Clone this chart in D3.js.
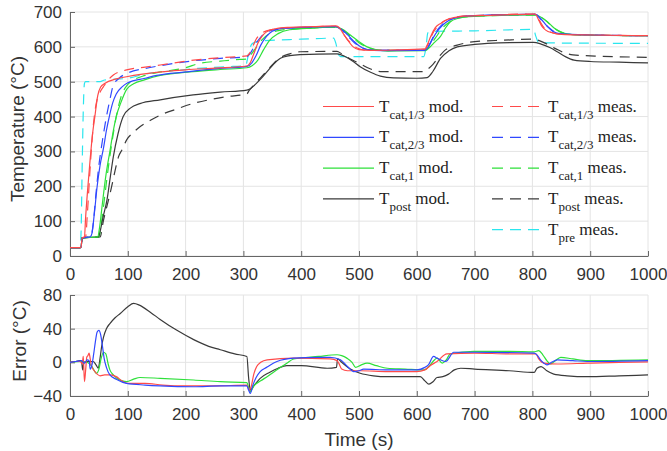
<!DOCTYPE html>
<html>
<head>
<meta charset="utf-8">
<script src="https://cdn.jsdelivr.net/npm/d3@7"></script>
<style>
  body { margin: 0; background: #fff; }
  .tick text { font-family: "Liberation Sans", Arial, sans-serif; font-size: 17px; fill: #333; }
  .axis-title { font-family: "Liberation Sans", Arial, sans-serif; font-size: 19px; fill: #333; }
  .legend text { font-family: "Liberation Serif", "Times New Roman", serif; fill: #222; }
</style>
</head>
<body>
<div id="chart"></div>
<script>
// ---- data (time s, temperature / error in degC) ----
var xTicks = [0, 100, 200, 300, 400, 500, 600, 700, 800, 900, 1000];
var tempTicks = [0, 100, 200, 300, 400, 500, 600, 700];
var errTicks = [-40, 0, 40, 80];

var redMod = [[0,24],[19,24],[21,52],[25,55],[27,110],[31,200],[35,280],[39,350],[43,400],[48,460],[53,485],[60,495],[80,508],[100,515],[150,527],[200,534],[250,539],[306,545],[312,555],[318,580],[325,610],[332,630],[340,643],[355,652],[380,656],[420,658],[460,660],[466,655],[472,640],[480,620],[490,600],[500,592],[520,590],[560,591],[614,594],[618,605],[624,630],[632,655],[642,668],[655,680],[675,687],[720,690],[805,694],[810,680],[816,660],[823,648],[835,640],[850,636],[900,634],[1000,632]];
var blueMod = [[0,24],[19,24],[21,52],[35,55],[38,65],[42,120],[47,200],[52,260],[58,310],[63,360],[68,400],[74,440],[80,465],[90,485],[100,497],[130,510],[150,518],[200,528],[250,537],[306,544],[315,555],[322,575],[330,605],[340,630],[350,645],[370,654],[420,657],[460,658],[470,650],[480,635],[490,618],[500,603],[512,593],[540,589],[614,590],[620,600],[628,625],[638,650],[650,670],[665,682],[690,689],[805,693],[815,680],[825,660],[835,645],[850,637],[900,634],[1000,632]];
var greenMod = [[0,24],[19,24],[21,52],[48,55],[51,80],[56,150],[62,230],[69,300],[75,360],[80,400],[88,440],[98,478],[110,494],[130,506],[156,518],[213,529],[260,535],[306,540],[315,546],[325,562],[335,592],[345,618],[360,638],[380,649],[420,654],[460,657],[470,652],[485,634],[500,615],[514,600],[530,592],[550,588],[614,589],[620,595],[630,612],[641,630],[650,655],[658,672],[672,682],[690,687],[805,692],[815,685],[826,672],[837,655],[848,643],[860,637],[880,634],[1000,632]];
var blackMod = [[0,24],[19,24],[21,52],[49,55],[52,70],[57,110],[64,161],[70,230],[75,285],[83,350],[92,400],[105,425],[121,437],[156,448],[213,462],[260,470],[306,476],[312,480],[318,488],[330,508],[341,529],[352,550],[364,567],[380,575],[398,578],[462,580],[475,573],[490,558],[502,543],[520,527],[537,516],[560,511],[600,510],[618,512],[628,530],[641,567],[655,588],[670,600],[700,607],[722,610],[802,613],[815,608],[830,598],[843,586],[857,572],[872,562],[900,558],[950,556],[1000,554]];
var redMeas = [[0,24],[19,24],[21,52],[27,55],[30,120],[34,230],[38,330],[42,400],[47,450],[52,470],[58,486],[66,505],[75,519],[98,534],[130,542],[156,548],[214,562],[260,569],[306,574],[310,580],[316,600],[322,622],[330,637],[340,646],[360,652],[400,656],[460,659],[468,650],[476,630],[486,610],[498,596],[515,590],[614,592],[620,610],[628,640],[640,665],[655,680],[680,688],[805,694],[812,676],[820,655],[832,642],[850,636],[1000,632]];
var blueMeas = [[0,24],[19,24],[21,52],[36,55],[40,90],[45,180],[50,260],[56,330],[62,390],[68,440],[75,490],[85,510],[100,525],[130,538],[156,546],[214,560],[260,567],[306,572],[312,582],[320,605],[330,628],[340,642],[360,651],[400,655],[460,657],[470,648],[480,632],[492,612],[505,598],[520,591],[614,591],[622,608],[632,640],[645,666],[660,680],[690,688],[805,693],[815,678],[828,656],[840,642],[860,636],[1000,632]];
var greenMeas = [[0,24],[19,24],[21,52],[50,55],[54,90],[60,170],[66,250],[72,320],[80,400],[89,460],[98,488],[110,505],[130,518],[156,528],[200,540],[225,553],[260,559],[294,564],[306,565],[314,580],[322,598],[332,620],[345,638],[365,648],[400,653],[460,656],[472,648],[486,630],[500,612],[515,598],[535,590],[614,590],[622,602],[632,625],[645,655],[658,673],[675,684],[700,688],[805,691],[818,682],[830,665],[843,648],[858,638],[880,634],[1000,632]];
var blackMeas = [[0,24],[19,24],[21,52],[52,55],[58,103],[65,150],[72,199],[78,245],[84,285],[90,305],[98,333],[110,355],[121,371],[140,390],[156,404],[185,422],[214,438],[240,448],[271,457],[306,465],[310,475],[318,490],[330,512],[340,530],[352,552],[365,570],[380,580],[398,586],[462,587],[470,580],[485,565],[500,553],[515,540],[530,531],[540,529],[610,529],[618,535],[628,550],[640,575],[650,592],[670,605],[700,615],[750,619],[800,622],[812,618],[825,608],[840,595],[855,583],[870,577],[920,573],[1000,570]];
var cyanMeas = [[0,24],[17,24],[19,60],[21,250],[23,420],[25,495],[27,500],[52,500],[60,505],[100,510],[130,522],[170,530],[220,538],[270,543],[304,546],[307,565],[311,595],[316,610],[330,617],[400,622],[456,625],[460,610],[464,580],[468,572],[612,572],[616,600],[619,640],[625,644],[700,646],[802,650],[806,630],[811,612],[850,611],[1000,610]];

var errRed = [[0,0],[10,1],[18,1],[21,-2],[23,7],[25,-23],[27,-10],[29,6],[31,8],[33,11],[35,4],[37,-4],[42,-10],[47,-14],[52,-16],[60,-15],[70,-15],[80,-17],[90,-22],[100,-25],[130,-25],[160,-27],[200,-28],[250,-28],[306,-27],[310,-33],[313,-30],[318,-14],[323,-5],[330,0],[341,3],[387,5],[450,4],[462,2],[465,-1],[470,-8],[480,-10],[502,-10],[550,-11],[600,-11],[614,-9],[623,-4],[635,1],[652,10],[700,11],[760,10],[806,10],[811,4],[820,-1],[843,-2],[895,-1],[950,0],[1000,0.5]];
var errBlue = [[0,0],[10,1],[20,2],[25,-1],[30,3],[33,2],[35,-8],[38,-3],[41,10],[44,25],[47,36],[50,38],[53,33],[56,20],[59,5],[63,-6],[69,-15],[80,-20],[98,-25],[130,-27],[156,-28],[214,-29],[260,-28],[306,-28],[309,-33],[312,-37],[316,-28],[322,-18],[329,-11],[340,-6],[358,1],[387,5],[430,6],[450,6],[468,3],[480,-5],[491,-11],[500,-10],[508,-8],[550,-9],[600,-9],[614,-6],[620,-3],[629,7],[635,5],[641,3],[650,1],[664,12],[700,12],[803,11],[809,8],[814,3],[820,-1],[825,-3],[833,0],[843,3],[870,2],[895,1],[1000,2]];
var errGreen = [[0,0],[20,1],[30,0],[38,-5],[42,-10],[46,-13],[50,-8],[54,5],[58,12],[62,10],[66,-2],[69,-9],[75,-15],[81,-19],[90,-22],[98,-23],[110,-20],[121,-18],[156,-19],[214,-21],[260,-23],[306,-24],[309,-30],[312,-35],[318,-28],[330,-22],[341,-17],[360,-8],[375,-1],[387,4],[430,7],[462,9],[470,8],[479,5],[488,0],[494,-6],[504,-3],[514,-1],[530,-4],[549,-7],[580,-8],[612,-9],[621,-5],[628,1],[635,5],[644,-1],[651,3],[658,10],[699,13],[760,13],[803,12.5],[811,14],[818,9],[825,2],[831,-2],[838,1],[849,6],[870,4],[895,2],[1000,3]];
var errBlack = [[0,0],[10,1],[18,2],[20,1],[22,-9],[24,0],[30,1],[40,1],[45,-3],[49,-7],[52,5],[55,20],[58,30],[63,40],[69,46],[78,53],[87,58],[100,66],[110,70],[120,68],[140,59],[156,51],[185,38],[214,27],[240,19],[260,15],[285,10],[306,7],[309,-18],[312,-33],[318,-28],[329,-19],[345,-12],[360,-7],[375,-4],[400,-4],[445,-7],[461,-6],[463,4],[470,0],[485,-8],[502,-13],[525,-16],[549,-17],[606,-17],[614,-22],[621,-26],[628,-23],[635,-18],[645,-17],[655,-14],[665,-9],[676,-7],[700,-8],[760,-10],[803,-12],[808,-7],[815,-5],[825,-10],[837,-14],[860,-16],[895,-17],[950,-16],[1000,-15]];

var red = "#ff4a4a", blue = "#3048ff", green = "#2ee03a", black = "#3a3a3a", cyan = "#2ae6ee";

var tempSeries = [
  {data: cyanMeas, color: cyan, dash: true},
  {data: blackMeas, color: black, dash: true},
  {data: greenMeas, color: green, dash: true},
  {data: blueMeas, color: blue, dash: true},
  {data: redMeas, color: red, dash: true},
  {data: blackMod, color: black, dash: false},
  {data: greenMod, color: green, dash: false},
  {data: blueMod, color: blue, dash: false},
  {data: redMod, color: red, dash: false}
];
var errSeries = [
  {data: errBlack, color: black},
  {data: errGreen, color: green},
  {data: errRed, color: red},
  {data: errBlue, color: blue}
];

var legendLeft = [
  {sub: "cat,1/3", tail: " mod.", color: red},
  {sub: "cat,2/3", tail: " mod.", color: blue},
  {sub: "cat,1", tail: " mod.", color: green},
  {sub: "post", tail: " mod.", color: black}
];
var legendRight = [
  {sub: "cat,1/3", tail: " meas.", color: red},
  {sub: "cat,2/3", tail: " meas.", color: blue},
  {sub: "cat,1", tail: " meas.", color: green},
  {sub: "post", tail: " meas.", color: black},
  {sub: "pre", tail: " meas.", color: cyan}
];

var svgWidth = 667, svgHeight = 451;
var svg = d3.select("#chart").append("svg")
    .attr("width", svgWidth)
    .attr("height", svgHeight);

var x = d3.scaleLinear().domain([0, 1000]).range([70, 648]);
var yTop = d3.scaleLinear().domain([0, 700]).range([256, 12]);
var yBot = d3.scaleLinear().domain([-40, 80]).range([396, 295]);

function drawPanel(y, yTickVals, yMin, yMax) {
  var g = svg.append("g");
  // grid
  g.selectAll(".gx").data(xTicks).enter().append("line")
      .attr("x1", function(d) { return x(d); }).attr("x2", function(d) { return x(d); })
      .attr("y1", y(yMin)).attr("y2", y(yMax))
      .attr("stroke", "#e4e4e4").attr("stroke-width", 1);
  g.selectAll(".gy").data(yTickVals).enter().append("line")
      .attr("x1", x(0)).attr("x2", x(1000))
      .attr("y1", function(d) { return y(d); }).attr("y2", function(d) { return y(d); })
      .attr("stroke", "#e4e4e4").attr("stroke-width", 1);
  // axes
  var ax = g.append("g")
      .attr("transform", "translate(0," + y(yMin) + ")")
      .call(d3.axisBottom(x).tickValues(xTicks).tickFormat(d3.format("d"))
        .tickSizeInner(-5).tickSizeOuter(0).tickPadding(12));
  var ay = g.append("g")
      .attr("transform", "translate(" + x(0) + ",0)")
      .call(d3.axisLeft(y).tickValues(yTickVals).tickFormat(d3.format("d"))
        .tickSizeInner(-5).tickSizeOuter(0).tickPadding(8));
  [ax, ay].forEach(function(a) {
    a.select(".domain").attr("stroke", "#666");
    a.selectAll(".tick line").attr("stroke", "#666");
    a.selectAll(".tick text").attr("font-size", null).attr("font-family", null);
  });
  return g;
}

drawPanel(yTop, tempTicks, 0, 700);
drawPanel(yBot, errTicks, -40, 80);

var lineTop = d3.line()
    .x(function(d) { return x(d[0]); })
    .y(function(d) { return yTop(d[1]); })
    .curve(d3.curveMonotoneX);
var lineBot = d3.line()
    .x(function(d) { return x(d[0]); })
    .y(function(d) { return yBot(d[1]); })
    .curve(d3.curveMonotoneX);

svg.append("g").selectAll("path").data(tempSeries).enter().append("path")
    .attr("d", function(d) { return lineTop(d.data); })
    .attr("fill", "none")
    .attr("stroke", function(d) { return d.color; })
    .attr("stroke-width", 1.2)
    .attr("stroke-dasharray", function(d) { return d.dash ? "10,7" : null; });

svg.append("g").selectAll("path").data(errSeries).enter().append("path")
    .attr("d", function(d) { return lineBot(d.data); })
    .attr("fill", "none")
    .attr("stroke", function(d) { return d.color; })
    .attr("stroke-width", 1.2);

// axis titles
svg.append("text").attr("class", "axis-title")
    .attr("transform", "translate(24,129) rotate(-90)")
    .attr("text-anchor", "middle")
    .text("Temperature (°C)");
svg.append("text").attr("class", "axis-title")
    .attr("transform", "translate(26,341) rotate(-90)")
    .attr("text-anchor", "middle")
    .text("Error (°C)");
svg.append("text").attr("class", "axis-title")
    .attr("x", 359).attr("y", 446)
    .attr("text-anchor", "middle")
    .text("Time (s)");

// legend
function drawLegend(items, x0, dashed) {
  var rowH = 30.8, y0 = 106.5;
  var lg = svg.append("g").attr("class", "legend");
  var rows = lg.selectAll("g").data(items).enter().append("g")
      .attr("transform", function(d, i) { return "translate(" + x0 + "," + (y0 + i * rowH) + ")"; });
  rows.append("line")
      .attr("x1", 0).attr("x2", 51)
      .attr("stroke", function(d) { return d.color; })
      .attr("stroke-width", 1.2)
      .attr("stroke-dasharray", dashed ? "11,7" : null);
  var t = rows.append("text").attr("x", 56).attr("y", 5).attr("font-size", "17px")
      .attr("xml:space", "preserve");
  t.append("tspan").text("T");
  t.append("tspan").attr("dy", 7).attr("font-size", "13px").text(function(d) { return d.sub; });
  t.append("tspan").attr("dy", -7).text(function(d) { return d.tail; });
}
drawLegend(legendLeft, 323, false);
drawLegend(legendRight, 492, true);
</script>
</body>
</html>
